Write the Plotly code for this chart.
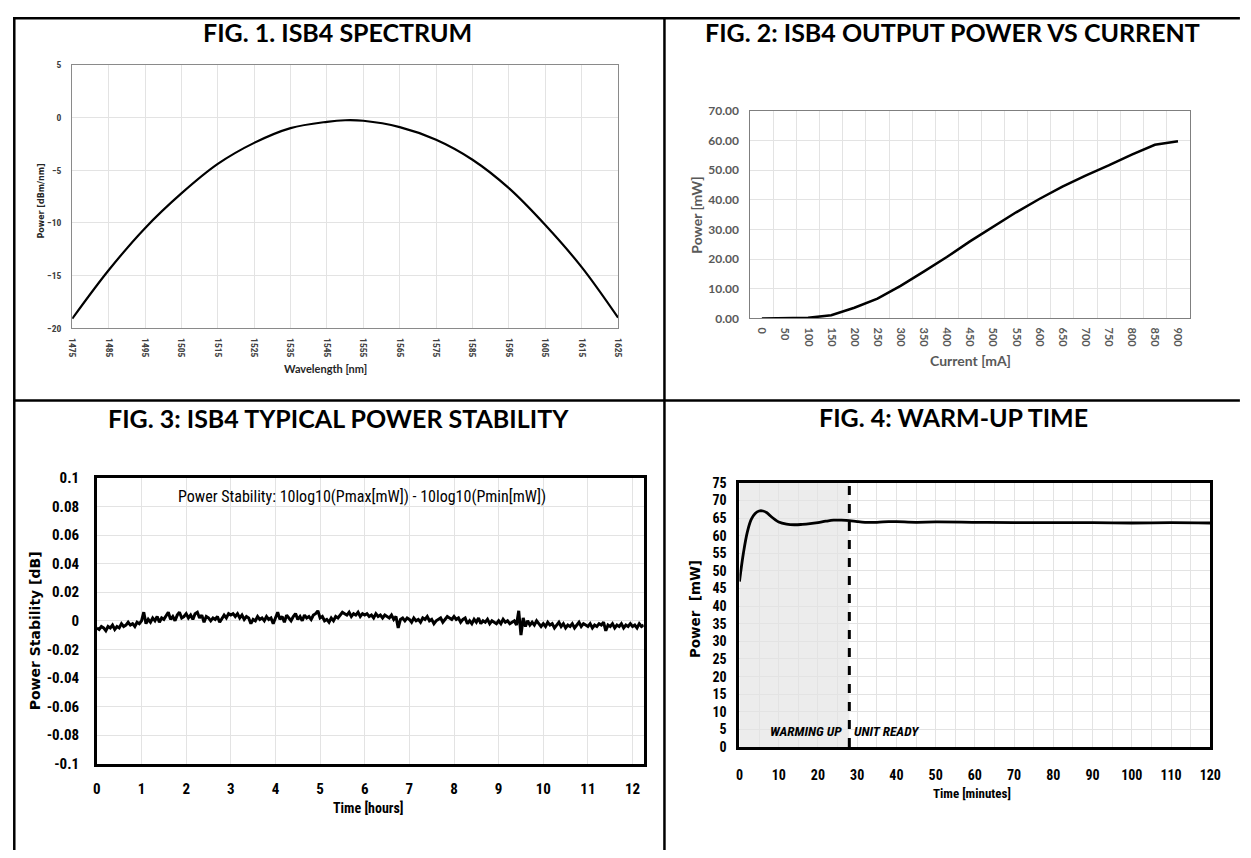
import plotly.graph_objects as go

# ---------------- data ----------------
# Fig. 1 spectrum
wavelength_nm = [1475, 1485, 1495, 1505, 1515, 1525, 1535, 1545, 1550, 1555,
                 1565, 1575, 1585, 1595, 1605, 1615, 1625]
spectrum_dbm_nm = [-19.1, -14.5, -10.5, -7.2, -4.4, -2.4, -1.0, -0.4, -0.25, -0.3,
                   -0.9, -2.1, -4.0, -6.7, -10.2, -14.2, -19.0]

# Fig. 2 output power vs current
current_ma = [0, 50, 100, 150, 200, 250, 300, 350, 400, 450, 500, 550, 600, 650,
              700, 750, 800, 850, 900]
output_power_mw = [0.0, 0.0, 0.2, 1.1, 3.6, 6.7, 11.0, 15.8, 20.7, 26.0, 31.0, 35.8,
                   40.3, 44.5, 48.2, 51.6, 55.3, 58.6, 59.8]

# Fig. 3 power stability, one reading every 0.05 h
stability_step_h = 0.05
stability_db = [
    -0.005, -0.006, -0.004, -0.005, -0.007, -0.004, -0.005, -0.003, -0.006, -0.004,
    -0.005, -0.002, -0.004, -0.003, -0.001, -0.003, -0.002, -0.004, -0.001, -0.002,
    0.000, 0.006, -0.002, 0.001, -0.001, 0.002, 0.000, 0.003, -0.001, 0.002,
    0.001, 0.004, 0.006, 0.001, 0.003, 0.000, 0.004, 0.006, 0.002, 0.003,
    0.005, 0.002, 0.004, 0.001, 0.005, 0.006, 0.002, 0.004, -0.001, 0.003,
    0.002, 0.000, 0.002, 0.001, 0.003, -0.001, 0.002, 0.004, 0.002, 0.005,
    0.004, 0.005, 0.003, 0.005, 0.002, 0.004, 0.001, 0.003, 0.002, -0.002,
    0.001, 0.000, 0.003, 0.001, 0.002, 0.000, 0.003, 0.001, 0.002, -0.002,
    0.002, 0.006, 0.001, 0.003, -0.001, 0.004, 0.002, 0.000, 0.003, 0.005,
    0.001, 0.003, 0.000, 0.004, 0.002, 0.003, 0.001, 0.004, 0.005, 0.007,
    0.002, 0.003, 0.000, 0.001, -0.001, 0.002, 0.000, 0.003, 0.002, 0.004,
    0.006, 0.005, 0.004, 0.006, 0.003, 0.005, 0.004, 0.006, 0.003, 0.005,
    0.004, 0.005, 0.003, 0.004, 0.002, 0.005, 0.003, 0.004, 0.002, 0.004,
    0.003, 0.002, 0.004, 0.001, 0.003, -0.005, 0.001, 0.002, 0.000, 0.002,
    0.001, -0.001, 0.002, 0.000, 0.001, -0.001, 0.002, 0.001, 0.003, 0.000,
    0.001, -0.002, 0.000, 0.001, 0.002, -0.001, 0.001, 0.003, 0.002, 0.001,
    0.003, 0.001, 0.002, -0.001, 0.001, 0.002, -0.002, 0.000, -0.002, 0.001,
    -0.001, 0.002, -0.002, 0.000, -0.001, 0.001, -0.002, 0.000, -0.001, -0.002,
    0.000, -0.002, 0.001, -0.001, 0.000, -0.002, -0.001, 0.000, -0.003, 0.007,
    -0.010, 0.002, -0.004, 0.000, -0.003, -0.001, -0.003, 0.000, -0.002, -0.004,
    -0.002, -0.004, -0.001, -0.003, -0.002, -0.005, -0.003, -0.001, -0.004, -0.002,
    -0.005, -0.003, -0.004, -0.002, -0.005, -0.003, -0.001, -0.004, -0.002, -0.003,
    -0.004, -0.002, -0.005, -0.003, -0.004, -0.002, -0.003, -0.001, -0.007, -0.003,
    -0.004, -0.002, -0.005, -0.003, -0.004, -0.002, -0.005, -0.003, -0.004, -0.002,
    -0.004, -0.003, -0.005, -0.002, -0.004, -0.003,
]
stability_time_h = [round(i * stability_step_h, 2) for i in range(len(stability_db))]

# Fig. 4 warm-up
warmup_min = [0, 1, 2, 3, 4, 5, 6, 7, 8, 9, 10, 12, 14, 16, 18, 20, 22, 24, 26, 28,
              30, 32, 35, 38, 40, 45, 50, 60, 70, 80, 90, 100, 110, 120]
warmup_mw = [47.0, 55.0, 61.0, 64.6, 66.3, 67.0, 67.0, 66.5, 65.5, 64.6, 63.9, 63.3,
             63.1, 63.2, 63.4, 63.7, 64.1, 64.4, 64.4, 64.3, 64.0, 63.8, 63.8, 64.0,
             64.0, 63.8, 63.9, 63.8, 63.7, 63.7, 63.7, 63.6, 63.7, 63.6]
warmup_ready_min = 28

# tick labels
spec_y_ticks = [-20, -15, -10, -5, 0, 5]
spec_x_ticks = list(range(1475, 1626, 10))
pow_y_ticks = [0, 10, 20, 30, 40, 50, 60, 70]
pow_y_text = ["0.00", "10.00", "20.00", "30.00", "40.00", "50.00", "60.00", "70.00"]
pow_x_ticks = current_ma
pow_x_grid = [25 + 50 * i for i in range(18)]
stab_y_ticks = [-0.1, -0.08, -0.06, -0.04, -0.02, 0, 0.02, 0.04, 0.06, 0.08, 0.1]
stab_y_text = ["-0.1", "-0.08", "-0.06", "-0.04", "-0.02", "0", "0.02", "0.04", "0.06", "0.08", "0.1"]
stab_x_ticks = list(range(0, 13))
warm_y_ticks = list(range(0, 76, 5))
warm_x_ticks = list(range(0, 121, 10))
warm_x_grid = list(range(5, 120, 10))

# ---------------- layout helpers ----------------
# The page body keeps its 8px margin, so the figure fills 1235x842 inside a 1251x858 window.
OFF = 8
FW, FH = 1251 - 2 * OFF, 858 - 2 * OFF


def px_x(p):
    return (p - OFF) / FW


def px_y(p):
    return 1 - (p - OFF) / FH


def dom_x(a, b):
    return [px_x(a), px_x(b)]


def dom_y(top, bottom):
    return [px_y(bottom), px_y(top)]


SANS = "Lato, 'Open Sans', sans-serif"
WIDE = "'DejaVu Sans', Verdana, sans-serif"
NARROW = "'Liberation Sans Narrow', 'Roboto Condensed', 'Arial Narrow', Lato, sans-serif"
GRID = "#e3e3e3"

fig = go.Figure()

fig.add_trace(go.Scatter(x=wavelength_nm, y=spectrum_dbm_nm, mode="lines",
                         line=dict(color="black", width=2.2, shape="spline"),
                         xaxis="x", yaxis="y", showlegend=False))
fig.add_trace(go.Scatter(x=current_ma, y=output_power_mw, mode="lines",
                         line=dict(color="black", width=2.5),
                         xaxis="x2", yaxis="y2", showlegend=False))
fig.add_trace(go.Scatter(x=stability_time_h, y=stability_db, mode="lines",
                         line=dict(color="black", width=3),
                         xaxis="x3", yaxis="y3", showlegend=False))
fig.add_trace(go.Scatter(x=warmup_min, y=warmup_mw, mode="lines",
                         line=dict(color="black", width=2.8, shape="spline"),
                         xaxis="x4", yaxis="y4", showlegend=False))

fig.update_layout(
    width=FW, height=FH,
    margin=dict(l=0, r=0, t=0, b=0),
    paper_bgcolor="white", plot_bgcolor="white",
    showlegend=False,
    # ---- Fig 1 ----
    xaxis=dict(domain=dom_x(68, 621), anchor="y", range=[1475, 1625],
               tickvals=spec_x_ticks, tickangle=90,
               tickfont=dict(family=NARROW, size=9.5, color="#404040", weight="bold"),
               ticks="outside", ticklen=7, tickcolor="rgba(0,0,0,0)",
               showgrid=True, gridcolor=GRID, gridwidth=1,
               showline=True, linecolor="#8a8a8a", linewidth=1, mirror=True,
               zeroline=False),
    yaxis=dict(domain=dom_y(57, 326), anchor="x", range=[-20, 5],
               tickvals=spec_y_ticks,
               tickfont=dict(family=NARROW, size=9.5, color="#404040", weight="bold"),
               ticks="outside", ticklen=8, tickcolor="rgba(0,0,0,0)",
               showgrid=True, gridcolor=GRID, gridwidth=1,
               showline=True, linecolor="#8a8a8a", linewidth=1, mirror=True,
               zeroline=False),
    # ---- Fig 2 ----
    xaxis2=dict(domain=dom_x(755, 1200), anchor="y2", range=[-25, 925],
                tickvals=pow_x_ticks, tickangle=90,
                tickfont=dict(family=SANS, size=11, color="#595959", weight="bold"),
                ticks="outside", ticklen=6, tickcolor="rgba(0,0,0,0)",
                showgrid=False,
                minor=dict(tickvals=pow_x_grid, showgrid=True, gridcolor=GRID, ticks=""),
                showline=True, linecolor="#7f7f7f", linewidth=1, mirror=True,
                zeroline=False),
    yaxis2=dict(domain=dom_y(104, 316), anchor="x2", range=[0, 70],
                tickvals=pow_y_ticks, ticktext=pow_y_text,
                tickfont=dict(family=SANS, size=12, color="#595959", weight="bold"),
                ticks="outside", ticklen=8, tickcolor="rgba(0,0,0,0)",
                showgrid=True, gridcolor=GRID,
                showline=True, linecolor="#7f7f7f", linewidth=1, mirror=True,
                zeroline=False),
    # ---- Fig 3 ----
    xaxis3=dict(domain=dom_x(93, 647), anchor="y3", range=[0, 12.25],
                tickvals=stab_x_ticks,
                tickfont=dict(family=NARROW, size=15, color="black", weight="bold"),
                ticks="outside", ticklen=10, tickcolor="rgba(0,0,0,0)",
                showgrid=True, gridcolor=GRID,
                showline=True, linecolor="black", linewidth=2.5, mirror=True,
                zeroline=False),
    yaxis3=dict(domain=dom_y(479, 771), anchor="x3", range=[-0.1, 0.1],
                tickvals=stab_y_ticks, ticktext=stab_y_text,
                tickfont=dict(family=NARROW, size=15, color="black", weight="bold"),
                ticks="outside", ticklen=12, tickcolor="rgba(0,0,0,0)",
                showgrid=True, gridcolor=GRID,
                showline=True, linecolor="black", linewidth=2.5, mirror=True,
                zeroline=False),
    # ---- Fig 4 ----
    xaxis4=dict(domain=dom_x(744, 1221), anchor="y4", range=[0, 120],
                tickvals=warm_x_ticks,
                tickfont=dict(family=NARROW, size=14, color="black", weight="bold"),
                ticks="outside", ticklen=13, tickcolor="rgba(0,0,0,0)",
                showgrid=True, gridcolor=GRID,
                minor=dict(tickvals=warm_x_grid, showgrid=True, gridcolor=GRID, ticks=""),
                showline=True, linecolor="black", linewidth=3, mirror=True,
                zeroline=False),
    yaxis4=dict(domain=dom_y(484, 754), anchor="x4", range=[0, 75],
                tickvals=warm_y_ticks,
                tickfont=dict(family=NARROW, size=14, color="black", weight="bold"),
                ticks="outside", ticklen=7, tickcolor="rgba(0,0,0,0)",
                showgrid=True, gridcolor=GRID,
                showline=True, linecolor="black", linewidth=3, mirror=True,
                zeroline=False),
)

shapes = []
# table borders (top and left edges sit at the figure edge)
for (x0, y0, x1, y1) in [(8, 9.3, 1251, 9.3), (9.3, 8, 9.3, 860),
                         (668, 8, 668, 860), (9, 400, 1251, 400)]:
    shapes.append(dict(type="line", xref="paper", yref="paper",
                       x0=px_x(x0), x1=px_x(x1), y0=px_y(y0), y1=px_y(y1),
                       line=dict(color="black", width=2.5)))
# warm-up shaded zone and ready marker
shapes.append(dict(type="rect", xref="x4", yref="y4", x0=0, x1=warmup_ready_min, y0=0, y1=75,
                   fillcolor="#ececec", line=dict(width=0), layer="below"))
shapes.append(dict(type="line", xref="x4", yref="y4", x0=warmup_ready_min, x1=warmup_ready_min,
                   y0=0, y1=75, line=dict(color="black", width=3, dash="dash")))
fig.update_layout(shapes=shapes)

ann = []


def add_text(text, x, y, size, family=SANS, color="black", angle=0, italic=False):
    ann.append(dict(text=text, x=px_x(x), y=px_y(y), xref="paper", yref="paper",
                    xanchor="center", yanchor="middle", showarrow=False, textangle=angle,
                    font=dict(family=family, size=size, color=color,
                              style="italic" if italic else "normal")))


add_text("<b>FIG. 1. ISB4 SPECTRUM</b>", 337, 23, 25)
add_text("<b>FIG. 2: ISB4 OUTPUT POWER VS CURRENT</b>", 960, 23, 25)
add_text("<b>FIG. 3: ISB4 TYPICAL POWER STABILITY</b>", 338, 418, 25)
add_text("<b>FIG. 4: WARM-UP TIME</b>", 961, 417, 25)

add_text("<b>Power [dBm/nm]</b>", 37, 196, 8, family=WIDE, color="#262626", angle=-90)
add_text("<b>Wavelength [nm]</b>", 325, 367, 11, color="#262626")

add_text("<b>Power [mW]</b>", 701, 211, 14, color="#595959", angle=-90)
add_text("<b>Current [mA]</b>", 978, 359, 14, color="#595959")

add_text("<b>Power Stability [dB]</b>", 30, 635, 14, family=WIDE, angle=-90)
add_text("<b>Time [hours]</b>", 368, 816, 14, family=NARROW)
add_text("Power Stability: 10log10(Pmax[mW]) - 10log10(Pmin[mW])", 362, 498, 16, family=NARROW)

add_text("<b>Power  [mW]</b>", 699, 613, 13.5, family=WIDE, angle=-90)
add_text("<b>Time [minutes]</b>", 980, 801, 13, family=NARROW)
add_text("<b>WARMING UP</b>", 811, 738, 13.5, family=NARROW, italic=True)
add_text("<b>UNIT READY</b>", 893, 738, 13.5, family=NARROW, italic=True)

fig.update_layout(annotations=ann)

fig.write_html("out.html", config={"displayModeBar": False})
